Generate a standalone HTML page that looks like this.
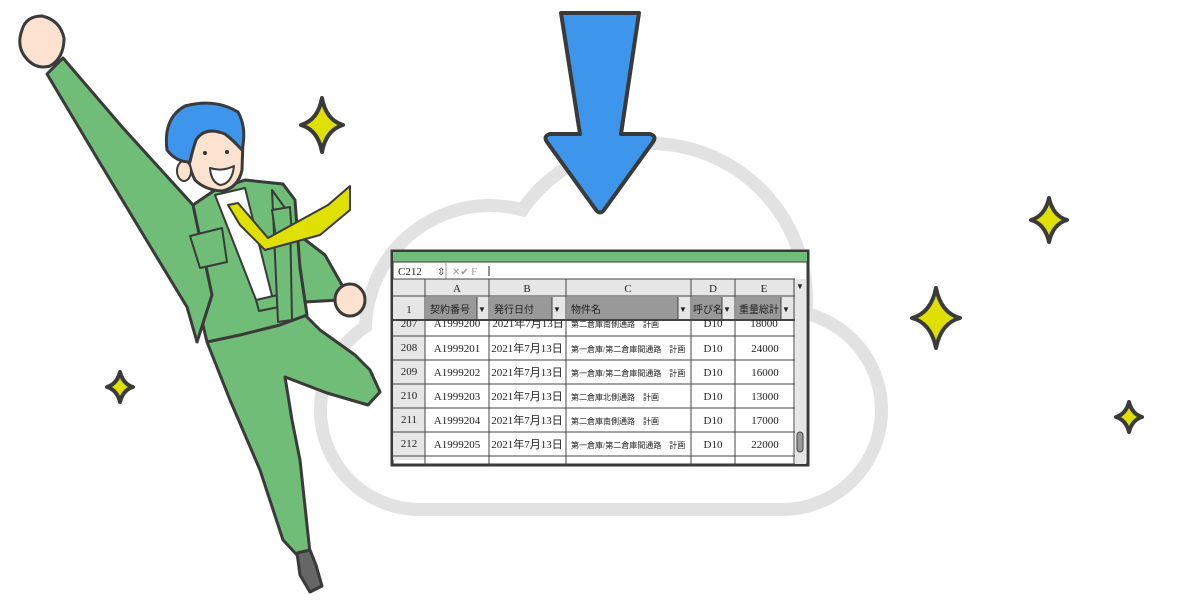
<!DOCTYPE html>
<html><head><meta charset="utf-8"><style>
body{margin:0;width:1200px;height:600px;overflow:hidden;background:#fff}
svg{position:absolute;left:0;top:0}
text{font-family:"Liberation Serif","Noto Sans CJK JP",serif;fill:#222}
.j{font-family:"Liberation Sans","Noto Sans CJK JP",sans-serif;font-size:10px}
.n{font-size:11px}
</style></head><body>
<svg width="1200" height="600" viewBox="0 0 1200 600">
<!-- cloud -->
<g fill="none" stroke="#e2e2e2" stroke-width="26">
<circle cx="420" cy="410" r="93"/><circle cx="490" cy="330" r="118"/><circle cx="650" cy="300" r="150"/><circle cx="782" cy="410" r="93"/>
<line x1="420" y1="503" x2="782" y2="503"/>
</g>
<g fill="#fff">
<circle cx="420" cy="410" r="93"/><circle cx="490" cy="330" r="118"/><circle cx="650" cy="300" r="150"/><circle cx="782" cy="410" r="93"/>
<rect x="420" y="300" width="362" height="203"/>
</g>
<!-- arrow -->
<path d="M561,13 L639,13 L621,134 L650,134 Q657,136 653,142 L604,210 Q600,215 596,210 L547,142 Q543,136 550,134 L580,134 Z" fill="#3d95ec" stroke="#3a3a3a" stroke-width="4" stroke-linejoin="round"/>
<!-- sparkles -->
<g fill="#e0e000" stroke="#3a3a3a" stroke-width="4" stroke-linejoin="round">
<path d="M936,288 Q941,313 960,318 Q941,323 936,348 Q931,323 912,318 Q931,313 936,288Z"/>
<path d="M1049,198 Q1053,216 1067,220 Q1053,224 1049,242 Q1045,224 1031,220 Q1045,216 1049,198Z"/>
<path d="M1129,402 Q1132,414 1142,417 Q1132,420 1129,432 Q1126,420 1116,417 Q1126,414 1129,402Z"/>
<path d="M322,98 Q326,120 343,125 Q326,130 322,152 Q318,130 301,125 Q318,120 322,98Z"/>
<path d="M120,372 Q123,384 133,387 Q123,390 120,402 Q117,390 107,387 Q117,384 120,372Z"/>
</g>
<!-- person -->
<g stroke="#3a3a3a" stroke-width="3" stroke-linejoin="round">
<path d="M207,342 L230,400 L260,470 L283,540 L297,555 L310,553 L300,460 L292,420 L285,377 L327,393 L368,405 L380,392 L370,370 L355,355 L320,330 L305,315 L260,325 Z" fill="#6fbd76"/>
<path d="M297,553 L310,550 L316,565 L322,586 L310,592 L300,575 Z" fill="#666"/>
<path d="M295,232 L325,255 L342,285 L340,300 L305,302 Z" fill="#6fbd76"/>
<ellipse cx="350" cy="300" rx="15" ry="16" fill="#fde2cf"/>
<path d="M193,205 L215,190 L245,180 L283,184 L295,200 L300,268 L307,315 L280,325 L240,335 L207,342 L197,300 Z" fill="#6fbd76"/>
<path d="M215,195 L245,188 L273,300 L258,305 Z" fill="#fff" stroke-width="2"/>
<path d="M256,300 L282,294 L284,306 L259,311 Z" fill="#6fbd76" stroke-width="2"/>
<path d="M272,190 L290,215 L292,320 L278,322 Z" fill="#6fbd76" stroke-width="2"/>
<path d="M47,74 L63,58 L123,128 L193,205 L212,295 L197,342 L187,307 L147,241 L100,163 Z" fill="#6fbd76"/>
<path d="M22,30 Q26,16 42,16 Q60,20 64,38 Q64,58 50,66 Q36,70 26,58 Q16,46 22,30Z" fill="#fde2cf"/>
<path d="M190,236 L222,228 L227,262 L200,268 Z" fill="#6fbd76" stroke-width="2"/>
<path d="M272,210 L290,207 L292,235 L276,238 Z" fill="#6fbd76" stroke-width="2"/>
<path d="M228,205 L238,203 L268,238 L328,205 L350,186 L350,210 L320,235 L265,250 L240,225 Z" fill="#e0e000" stroke-width="2"/>
<path d="M187,140 Q190,115 215,112 Q240,115 243,140 L242,170 Q238,188 222,191 Q205,190 195,180 Q187,165 187,140Z" fill="#fde2cf"/>
<ellipse cx="184" cy="171" rx="7" ry="10" fill="#fde2cf" stroke-width="2"/>
<path d="M167,150 Q163,118 185,106 Q215,98 238,112 Q247,128 242,150 Q233,140 225,134 Q205,126 196,140 Q192,152 190,162 Q176,162 167,150 Z" fill="#3d95ec"/>
<path d="M210,168 Q222,172 234,166 Q232,184 220,185 Q211,182 210,168 Z" fill="#fff" stroke-width="2"/>
<circle cx="205" cy="153" r="2" fill="#333" stroke="none"/><circle cx="227" cy="152" r="2" fill="#333" stroke="none"/>
</g>
<!-- spreadsheet -->
<rect x="392" y="251" width="416" height="214" fill="#fff" stroke="#3a3a3a" stroke-width="3"/>
<rect x="393" y="252" width="414" height="10" fill="#6fbd76"/>
<line x1="392" y1="262" x2="808" y2="262" stroke="#3a3a3a"/>
<line x1="446" y1="263" x2="446" y2="279" stroke="#999"/>
<text x="398" y="275" class="n">C212</text><text x="437" y="275" font-size="10">⇳</text>
<text x="452" y="275" font-size="10" style="fill:#999">✕✔ F</text>
<line x1="489" y1="266" x2="489" y2="276" stroke="#222"/>
<rect x="393" y="279" width="402" height="41" fill="#e6e6e6"/>
<rect x="393" y="320" width="32" height="140" fill="#e6e6e6"/>
<g fill="#999"><rect x="426" y="297" width="51" height="23"/><rect x="490" y="297" width="62" height="23"/><rect x="567" y="297" width="111" height="23"/><rect x="692" y="297" width="30" height="23"/><rect x="736" y="297" width="45" height="23"/></g>
<g stroke="#444" stroke-width="1">
<line x1="393" y1="279" x2="795" y2="279"/><line x1="393" y1="296" x2="795" y2="296"/><line x1="393" y1="320" x2="795" y2="320" stroke-width="2"/>
<line x1="393" y1="336" x2="795" y2="336"/><line x1="393" y1="360" x2="795" y2="360"/><line x1="393" y1="384" x2="795" y2="384"/><line x1="393" y1="408" x2="795" y2="408"/><line x1="393" y1="432" x2="795" y2="432"/><line x1="393" y1="456" x2="795" y2="456"/>
<line x1="425" y1="279" x2="425" y2="465"/><line x1="489" y1="279" x2="489" y2="465"/><line x1="566" y1="279" x2="566" y2="465"/><line x1="691" y1="279" x2="691" y2="465"/><line x1="735" y1="279" x2="735" y2="465"/><line x1="794" y1="279" x2="794" y2="465"/>
<line x1="477" y1="297" x2="477" y2="320"/><line x1="552" y1="297" x2="552" y2="320"/><line x1="678" y1="297" x2="678" y2="320"/><line x1="722" y1="297" x2="722" y2="320"/><line x1="781" y1="297" x2="781" y2="320"/>
</g>
<rect x="795" y="279" width="11" height="185" fill="#e6e6e6"/>
<rect x="797" y="432" width="6" height="20" rx="3" fill="#999" stroke="#444"/>
<g font-size="8" style="fill:#333"><text x="478" y="312">▼</text><text x="553" y="312">▼</text><text x="679" y="312">▼</text><text x="723" y="312">▼</text><text x="782" y="312">▼</text><text x="796" y="289">▼</text></g>
<g class="n" text-anchor="middle">
<text x="457" y="292">A</text><text x="527" y="292">B</text><text x="628" y="292">C</text><text x="713" y="292">D</text><text x="764" y="292">E</text>
<text x="409" y="313">1</text>
</g>
<g class="j"><text x="430" y="313">契約番号</text><text x="494" y="313">発行日付</text><text x="571" y="313">物件名</text><text x="693" y="313">呼び名</text><text x="739" y="313">重量総計</text></g>
<svg x="393" y="320" width="402" height="16"><g class="n" text-anchor="middle"><text x="16" y="7">207</text><text x="64" y="7">A1999200</text><text x="135" y="7">2021年7月13日</text><text x="320" y="7">D10</text><text x="371" y="7">18000</text></g><text x="178" y="7" class="j" style="font-size:8px">第二倉庫南側通路　計画</text></svg>
<g class="n" text-anchor="middle">
<text x="409" y="351">208</text><text x="457" y="352">A1999201</text><text x="527" y="352">2021年7月13日</text><text x="713" y="352">D10</text><text x="765" y="352">24000</text>
<text x="409" y="375">209</text><text x="457" y="376">A1999202</text><text x="527" y="376">2021年7月13日</text><text x="713" y="376">D10</text><text x="765" y="376">16000</text>
<text x="409" y="399">210</text><text x="457" y="400">A1999203</text><text x="527" y="400">2021年7月13日</text><text x="713" y="400">D10</text><text x="765" y="400">13000</text>
<text x="409" y="423">211</text><text x="457" y="424">A1999204</text><text x="527" y="424">2021年7月13日</text><text x="713" y="424">D10</text><text x="765" y="424">17000</text>
<text x="409" y="447">212</text><text x="457" y="448">A1999205</text><text x="527" y="448">2021年7月13日</text><text x="713" y="448">D10</text><text x="765" y="448">22000</text>
</g>
<g class="j" style="font-size:8px">
<text x="571" y="352">第一倉庫/第二倉庫間通路　計画</text>
<text x="571" y="376">第一倉庫/第二倉庫間通路　計画</text>
<text x="571" y="400">第二倉庫北側通路　計画</text>
<text x="571" y="424">第二倉庫南側通路　計画</text>
<text x="571" y="448">第一倉庫/第二倉庫間通路　計画</text>
</g>
</svg>
</body></html>
